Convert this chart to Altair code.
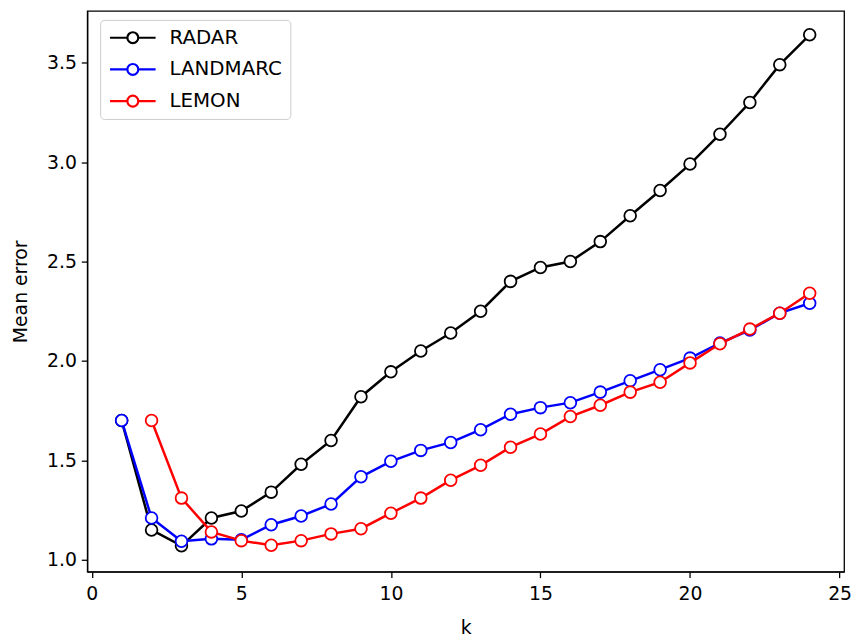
import altair as alt
import pandas as pd

k_radar = list(range(1, 25))
radar = [1.70, 1.15, 1.07, 1.21, 1.245, 1.34, 1.48, 1.60, 1.82, 1.945, 2.05, 2.14,
         2.25, 2.40, 2.47, 2.50, 2.60, 2.73, 2.857, 2.99, 3.14, 3.30, 3.49, 3.64]
k_landmarc = list(range(1, 25))
landmarc = [1.70, 1.21, 1.093, 1.105, 1.10, 1.176, 1.22, 1.28, 1.417, 1.495, 1.55, 1.59,
            1.654, 1.732, 1.765, 1.79, 1.843, 1.90, 1.956, 2.014, 2.09, 2.155, 2.24, 2.29]
k_lemon = list(range(2, 25))
lemon = [1.70, 1.31, 1.14, 1.096, 1.073, 1.096, 1.13, 1.156, 1.234, 1.31, 1.40,
         1.475, 1.566, 1.632, 1.72, 1.777, 1.843, 1.893, 1.99, 2.086, 2.16, 2.24, 2.34]

series = ["RADAR", "LANDMARC", "LEMON"]
colors = ["black", "blue", "red"]
x_ticks = [0, 5, 10, 15, 20, 25]
y_ticks = [1.0, 1.5, 2.0, 2.5, 3.0, 3.5]

rows = []
for name, ks, vs in [("RADAR", k_radar, radar), ("LANDMARC", k_landmarc, landmarc), ("LEMON", k_lemon, lemon)]:
    for kk, v in zip(ks, vs):
        rows.append({"k": kk, "err": v, "method": name})
df = pd.DataFrame(rows)

FONT = "DejaVu Sans"
FS = 19
xscale = alt.Scale(domain=[-0.15, 25.15], nice=False, zero=False)
yscale = alt.Scale(domain=[0.94, 3.76], nice=False, zero=False)
cscale = alt.Scale(domain=series, range=colors)

xax = alt.Axis(values=x_ticks, title="k", grid=False, labelFontSize=FS, titleFontSize=FS,
               labelFont=FONT, titleFont=FONT, tickSize=6, tickColor="black", domainColor="black",
               labelColor="black", titleColor="black", titleFontWeight="normal", labelPadding=7,
               titlePadding=15, tickWidth=1.3, domainWidth=1.3)
yax = alt.Axis(values=y_ticks, format=".1f", title="Mean error", grid=False, labelFontSize=FS,
               titleFontSize=FS, labelFont=FONT, titleFont=FONT, tickSize=6, tickColor="black",
               domainColor="black", labelColor="black", titleColor="black", titleFontWeight="normal",
               labelPadding=5, titlePadding=16, tickWidth=1.3, domainWidth=1.3)

# legend handle: line with hollow circle (unit = 8px since sqrt(256)/2 = 8)
legend_path = ("M-1,0L1.19,0M2.56,0L4.75,0"
               "M2.5625,0A0.6875,0.6875,0,1,1,1.1875,0A0.6875,0.6875,0,1,1,2.5625,0")

layers = []
for i, name in enumerate(series):
    base = alt.Chart(df).transform_filter(alt.datum.method == name)
    line = base.mark_line(strokeWidth=2.5).encode(
        x=alt.X("k:Q", scale=xscale, axis=xax),
        y=alt.Y("err:Q", scale=yscale, axis=yax),
        color=alt.Color("method:N", scale=cscale,
                        legend=alt.Legend(title=None, orient="none", legendX=13, legendY=9,
                                          symbolType=legend_path, symbolSize=256,
                                          symbolStrokeWidth=2.2, symbolFillColor="white",
                                          labelFont=FONT, labelFontSize=20, labelColor="black",
                                          labelOffset=42, rowPadding=12, padding=8,
                                          fillColor="white", strokeColor="#cccccc",
                                          cornerRadius=4) if i == 0 else None),
    )
    pts = base.mark_point(shape="circle", size=140, filled=False, fill="white", fillOpacity=1,
                          strokeWidth=1.8, opacity=1).encode(
        x=alt.X("k:Q", scale=xscale),
        y=alt.Y("err:Q", scale=yscale),
        color=alt.Color("method:N", scale=cscale, legend=None),
    )
    layers += [line, pts]

chart = alt.layer(*layers).properties(
    width=764, height=566,
    autosize=alt.AutoSizeParams(type="none"),
    padding={"left": 80, "top": 0, "right": 10, "bottom": 68},
).configure_view(stroke="black", strokeWidth=1.3)

chart.save("out.html", embed_options={"renderer": "svg", "actions": False})
